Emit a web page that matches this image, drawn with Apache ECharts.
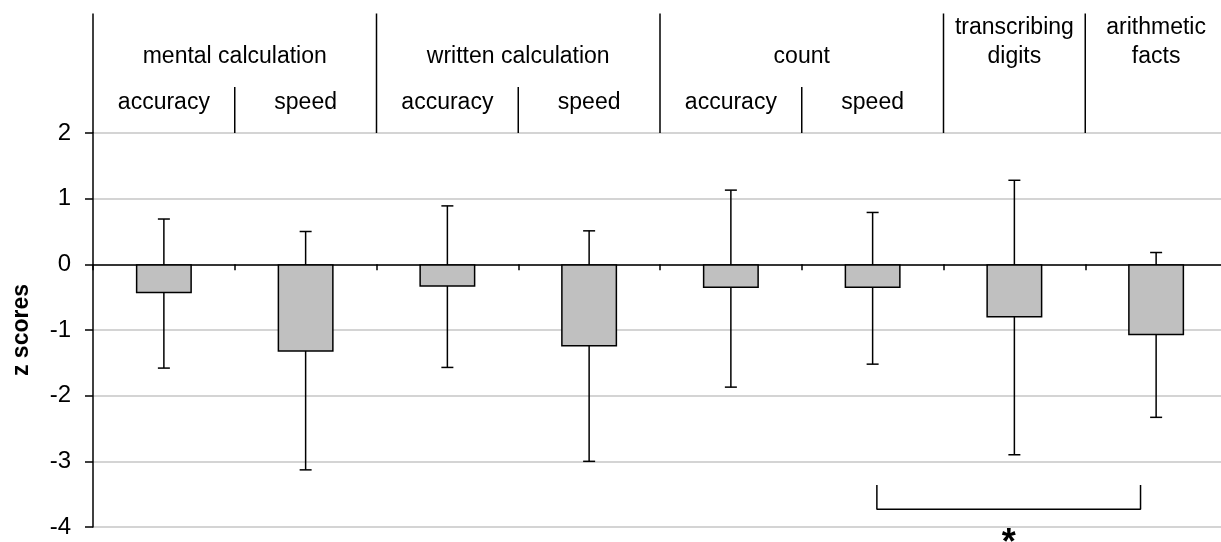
<!DOCTYPE html>
<html><head><meta charset="utf-8">
<script src="https://cdn.jsdelivr.net/npm/echarts@6/dist/echarts.min.js"></script>
<style>html,body{margin:0;padding:0;background:#fff}#c{width:1221px;height:542px}</style>
</head><body><div id="c"></div>
<script>
// ---- data ----
const categories = ['mental calculation accuracy','mental calculation speed','written calculation accuracy','written calculation speed','count accuracy','count speed','transcribing digits','arithmetic facts'];
const means   = [-0.44, -1.33, -0.34, -1.25, -0.36, -0.36, -0.81, -1.08];
const errLow  = [-1.58, -3.13, -1.57, -3.00, -1.87, -1.52, -2.90, -2.33];
const errHigh = [ 0.69,  0.50,  0.89,  0.51,  1.13,  0.79,  1.28,  0.18];
const yMin = -4, yMax = 2, yStep = 1;
const groupLabels = [['mental calculation'], ['written calculation'], ['count'], ['transcribing', 'digits'], ['arithmetic', 'facts']];
const groupSpans  = [[0, 2], [2, 4], [4, 6], [6, 7], [7, 8]];
const subLabels   = ['accuracy', 'speed', 'accuracy', 'speed', 'accuracy', 'speed'];
const bracketX = [5.53, 7.39];
const bracketY = [-3.36, -3.73];
const sigMark = '*';

const FONT = '"Liberation Sans", Arial, sans-serif';
const chart = echarts.init(document.getElementById('c'), null, {renderer: 'canvas'});

const option = {
  animation: false,
  backgroundColor: '#fff',
  grid: {left: 93, right: -6, top: 133, bottom: 15, containLabel: false, outerBoundsMode: 'none'},
  xAxis: [{
    type: 'category', data: categories, position: 'bottom',
    axisLine: {onZero: true, lineStyle: {color: '#000', width: 1.5}},
    axisTick: {show: true, interval: 0, alignWithLabel: false, length: 6, inside: false, lineStyle: {color: '#000', width: 1.5}},
    axisLabel: {show: false}, splitLine: {show: false}
  }, {
    type: 'value', min: 0, max: categories.length, show: false
  }],
  yAxis: {
    type: 'value', min: yMin, max: yMax, interval: yStep,
    name: 'z scores', nameLocation: 'middle', nameGap: 60, nameRotate: 90,
    nameTextStyle: {fontFamily: FONT, fontSize: 23, fontWeight: 'bold', color: '#000'},
    axisLine: {show: true, onZero: false, lineStyle: {color: '#000', width: 1.5}},
    axisTick: {show: true, length: 8, inside: false, lineStyle: {color: '#000', width: 1.5}},
    axisLabel: {fontFamily: FONT, fontSize: 24, color: '#000', margin: 22},
    splitLine: {show: true, lineStyle: {color: '#c6c6c6', width: 1.5}}
  },
  series: [{
    type: 'bar', data: means, xAxisIndex: 0, barWidth: '39.5%',
    itemStyle: {color: '#c0c0c0', borderColor: '#000', borderWidth: 1.5}
  }, {
    type: 'custom', xAxisIndex: 0,
    data: categories.map((c, i) => [i, errLow[i], errHigh[i]]),
    encode: {x: 0, y: [1, 2]},
    renderItem: (params, api) => {
      const x = api.value(0);
      const lo = api.coord([x, api.value(1)]);
      const hi = api.coord([x, api.value(2)]);
      const h = 6;
      const style = {stroke: '#000', lineWidth: 1.5};
      return {type: 'group', children: [
        {type: 'line', shape: {x1: lo[0], y1: lo[1], x2: hi[0], y2: hi[1]}, style},
        {type: 'line', shape: {x1: lo[0] - h, y1: lo[1], x2: lo[0] + h, y2: lo[1]}, style},
        {type: 'line', shape: {x1: hi[0] - h, y1: hi[1], x2: hi[0] + h, y2: hi[1]}, style}
      ]};
    }
  }, {
    type: 'line', xAxisIndex: 1, symbol: 'none',
    data: [[bracketX[0], bracketY[0]], [bracketX[0], bracketY[1]], [bracketX[1], bracketY[1]], [bracketX[1], bracketY[0]]],
    lineStyle: {color: '#000', width: 1.5}
  }]
};
chart.setOption(option);

// ---- header (positioned through the axes' scales) ----
const P = (x, y) => chart.convertToPixel({xAxisIndex: 1, yAxisIndex: 0}, [x, y]);
const Y_TOP = 3.82, Y_SHORT = 2.70, Y_GROUP = 3.16, Y_SUB = 2.46, Y_LINE1 = 3.61;
const g = [];
const vline = (x, y0, y1) => {
  const a = P(x, y0), b = P(x, y1);
  g.push({type: 'line', shape: {x1: a[0], y1: a[1], x2: b[0], y2: b[1]}, style: {stroke: '#000', lineWidth: 1.5}, silent: true});
};
const text = (x, y, s) => {
  const p = P(x, y);
  g.push({type: 'text', x: p[0], y: p[1], style: {text: s, font: '23px ' + FONT, fill: '#000', align: 'center', verticalAlign: 'middle'}, silent: true});
};
[0, 2, 4, 6, 7, 8].forEach(x => vline(x, yMax, Y_TOP));
[1, 3, 5].forEach(x => vline(x, yMax, Y_SHORT));
groupLabels.forEach((lines, i) => {
  const cx = (groupSpans[i][0] + groupSpans[i][1]) / 2;
  if (lines.length === 1) text(cx, Y_GROUP, lines[0]);
  else { text(cx, Y_LINE1, lines[0]); text(cx, Y_GROUP, lines[1]); }
});
subLabels.forEach((s, i) => text(i + 0.5, Y_SUB, s));
const sp = P((bracketX[0] + bracketX[1]) / 2, -3.98);
g.push({type: 'text', x: sp[0], y: sp[1], style: {text: sigMark, font: 'bold 36px ' + FONT, fill: '#000', align: 'center', verticalAlign: 'top'}, silent: true});
chart.setOption({graphic: g});
</script></body></html>
